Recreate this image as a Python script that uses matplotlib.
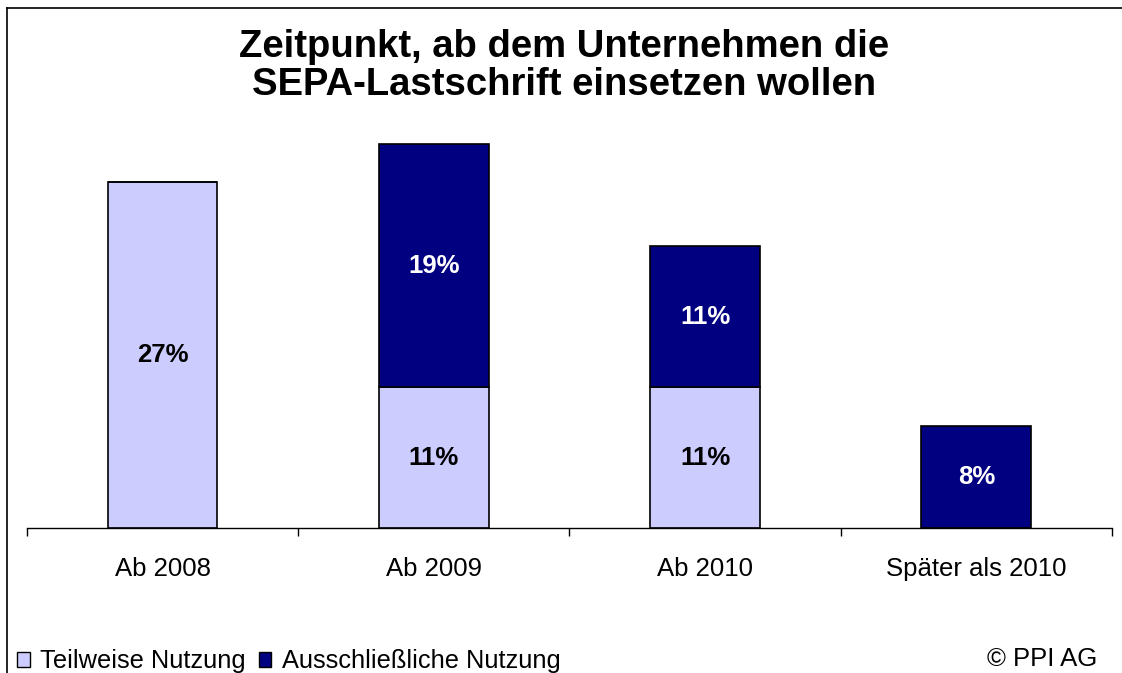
import matplotlib

matplotlib.use("Agg")
import matplotlib.pyplot as plt
from matplotlib.lines import Line2D
from matplotlib.patches import Patch
import numpy as np

plt.rcParams["font.family"] = ["Liberation Sans", "DejaVu Sans"]

categories = ["Ab 2008", "Ab 2009", "Ab 2010", "Später als 2010"]
teilweise = [27, 11, 11, 0]
ausschliesslich = [0, 19, 11, 8]
series_names = ["Teilweise Nutzung", "Ausschließliche Nutzung"]
title = "Zeitpunkt, ab dem Unternehmen die\nSEPA-Lastschrift einsetzen wollen"

light = "#CCCCFF"
dark = "#000080"

fig = plt.figure(figsize=(11.22, 6.73), dpi=100)
ax = fig.add_axes([0.024, 0.2155, 0.967, 0.584])

x = np.arange(len(categories))
width = 0.405
ax.bar(x, teilweise, width, color=light, edgecolor="black", linewidth=1.2)
ax.bar(x, ausschliesslich, width, bottom=teilweise, color=dark, edgecolor="black", linewidth=1.2)

for i in range(len(categories)):
    if teilweise[i] > 0:
        ax.text(x[i], teilweise[i] / 2, f"{teilweise[i]}%", ha="center", va="center",
                fontsize=18.5, fontweight="bold", color="black")
    if ausschliesslich[i] > 0:
        ax.text(x[i], teilweise[i] + ausschliesslich[i] / 2, f"{ausschliesslich[i]}%",
                ha="center", va="center", fontsize=18.5, fontweight="bold", color="white")

ax.set_xlim(-0.5, len(categories) - 0.5)
ax.set_ylim(0, 30.7)
for s in ["top", "right", "left"]:
    ax.spines[s].set_visible(False)
ax.spines["bottom"].set_linewidth(1.0)
ax.set_yticks([])
ax.set_xticks(np.arange(len(categories) + 1) - 0.5)
ax.set_xticklabels([])
ax.tick_params(axis="x", which="major", length=6, width=1.0, direction="out")
ax.set_xticks(x, minor=True)
ax.set_xticklabels(categories, minor=True, fontsize=18.5)
ax.tick_params(axis="x", which="minor", length=0, pad=21)

fig.text(0.503, 0.902, title, ha="center", va="center", fontsize=27.5,
         fontweight="bold", linespacing=1.05)

# chart frame (left and top edges)
fig.add_artist(Line2D([7 / 1122, 7 / 1122], [0, 1 - 8 / 673], color="black", linewidth=1.2))
fig.add_artist(Line2D([7 / 1122, 1], [1 - 8 / 673, 1 - 8 / 673], color="black", linewidth=1.2))

handles = [Patch(facecolor=light, edgecolor="black", linewidth=1.0),
           Patch(facecolor=dark, edgecolor="black", linewidth=1.0)]
fig.legend(handles, series_names, loc="lower left", bbox_to_anchor=(0.011, -0.008),
           ncol=2, frameon=False, fontsize=18.3, handlelength=0.5, handleheight=0.5,
           handletextpad=0.4, columnspacing=0.5, borderaxespad=0.0, borderpad=0.2)

fig.text(0.978, 0.021, "© PPI AG", ha="right", va="center", fontsize=18.5)

fig.savefig("out.png", dpi=100)
plt.close(fig)
